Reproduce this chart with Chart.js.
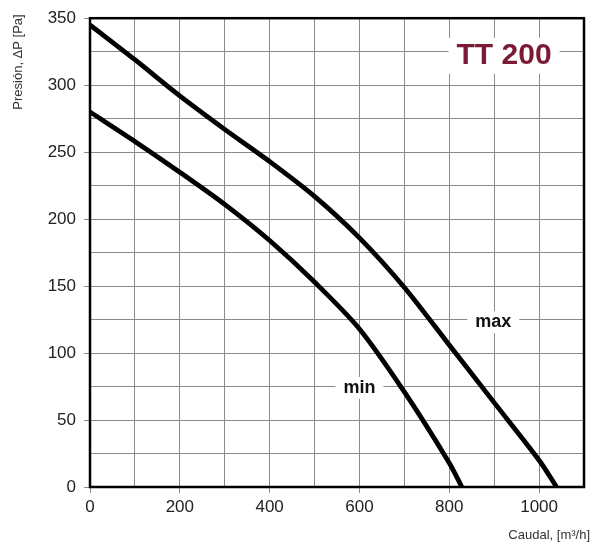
<!DOCTYPE html>
<html>
<head>
<meta charset="utf-8">
<script src="https://cdn.jsdelivr.net/npm/chart.js@4/dist/chart.umd.min.js"></script>
<style>
  html, body { margin: 0; padding: 0; background: #fff; }
  #wrap { width: 594px; height: 546px; }
</style>
</head>
<body>
<div id="wrap"><canvas id="c" width="594" height="546"></canvas></div>
<script>
// caudal [m3/h] and presión [Pa]
const maxFlow = [0, 100, 200, 300, 400, 500, 600, 700, 800, 900, 1000, 1039];
const maxPress = [345, 319, 292, 267, 243, 217, 186, 149, 106, 63, 20, 0];
const minFlow = [0, 100, 200, 300, 400, 500, 600, 700, 800, 828];
const minPress = [280, 258, 235, 211, 184, 153, 118, 71, 18, 0];

const curveLabels = [
  { text: 'max', x: 898, y: 123 },
  { text: 'min', x: 600, y: 74 },
];
const modelName = 'TT 200';

const FONT = "'Liberation Sans', Arial, sans-serif";

const toXY = (xs, ys) => xs.map((x, i) => ({ x: x, y: ys[i] }));

const overlay = {
  id: 'overlay',
  afterDraw(chart) {
    const ctx = chart.ctx;
    const { left, right, top, bottom } = chart.chartArea;
    const sx = chart.scales.x, sy = chart.scales.y;

    // frame
    ctx.save();
    ctx.strokeStyle = '#000';
    ctx.lineWidth = 2.5;
    ctx.strokeRect(left, top, right - left, bottom - top);

    // labels with white box
    const boxed = (txt, px, py, font, color, padX, padY) => {
      ctx.font = font;
      ctx.textAlign = 'center';
      ctx.textBaseline = 'middle';
      const w = ctx.measureText(txt).width;
      ctx.fillStyle = '#fff';
      ctx.fillRect(px - w / 2 - padX, py - padY, w + padX * 2, padY * 2);
      ctx.fillStyle = color;
      ctx.fillText(txt, px, py);
    };
    boxed(modelName, sx.getPixelForValue(922), sy.getPixelForValue(322),
      'bold 30px ' + FONT, '#7a1a35', 8, 18);
    curveLabels.forEach(l => {
      boxed(l.text, sx.getPixelForValue(l.x), sy.getPixelForValue(l.y),
        'bold 18px ' + FONT, '#111', 8, 11);
    });

    // axis titles
    ctx.fillStyle = '#333';
    ctx.font = '13px ' + FONT;
    ctx.textAlign = 'right';
    ctx.textBaseline = 'middle';
    ctx.fillText('Caudal, [m³/h]', 590, 535);
    ctx.translate(18, 62);
    ctx.rotate(-Math.PI / 2);
    ctx.textAlign = 'center';
    ctx.fillText('Presión, ΔP [Pa]', 0, 0);
    ctx.restore();
  }
};

new Chart(document.getElementById('c'), {
  type: 'line',
  data: {
    datasets: [
      { label: 'max', data: toXY(maxFlow, maxPress) },
      { label: 'min', data: toXY(minFlow, minPress) },
    ]
  },
  options: {
    responsive: false,
    animation: false,
    layout: { padding: { top: 15, right: 10, left: 0, bottom: 0 } },
    elements: {
      line: { borderColor: '#000', borderWidth: 4.8, tension: 0.3, fill: false, borderCapStyle: 'butt' },
      point: { radius: 0 }
    },
    plugins: { legend: { display: false }, tooltip: { enabled: false } },
    scales: {
      x: {
        type: 'linear', min: 0, max: 1100,
        afterFit: s => { s.height = 59; },
        grid: {
          color: '#8a8a8a', lineWidth: 1, tickLength: 6,
          tickColor: c => (c.tick && c.tick.value % 200 === 0 && c.tick.value < 1100) ? '#8a8a8a' : 'rgba(0,0,0,0)'
        },
        border: { display: false },
        ticks: {
          stepSize: 100, autoSkip: false, maxRotation: 0, padding: 4,
          color: '#222', font: { family: FONT, size: 17 },
          callback: v => (v % 200 === 0 && v < 1100) ? v : ''
        }
      },
      y: {
        type: 'linear', min: 0, max: 350,
        afterFit: s => { s.width = 90; },
        grid: {
          color: '#8a8a8a', lineWidth: 1, tickLength: 6,
          tickColor: c => (c.tick && c.tick.value % 50 === 0) ? '#8a8a8a' : 'rgba(0,0,0,0)'
        },
        border: { display: false },
        ticks: {
          stepSize: 25, autoSkip: false, padding: 8,
          color: '#222', font: { family: FONT, size: 17 },
          callback: v => (v % 50 === 0) ? v : ''
        }
      }
    }
  },
  plugins: [overlay]
});
</script>
</body>
</html>
